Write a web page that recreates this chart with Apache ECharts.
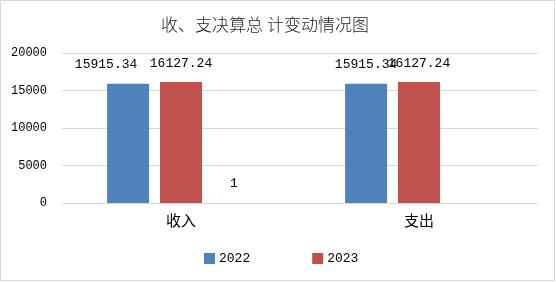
<!DOCTYPE html>
<html><head><meta charset="utf-8">
<script src="https://cdn.jsdelivr.net/npm/echarts@6/dist/echarts.min.js"></script>
<style>html,body{margin:0;padding:0;background:#fff}#c{width:556px;height:282px}</style>
</head><body><div id="c"></div>
<script>
const titleText = '收、支决算总 计变动情况图';
const categories = ['收入', '支出'];
const seriesNames = ['2022', '2023', '系列3'];
const values2022 = [15915.34, 15915.34];
const values2023 = [16127.24, 16127.24];
const values3 = [1, null];
const yTicks = [0, 5000, 10000, 15000, 20000];

const numFont = "'Liberation Mono', monospace";
const chart = echarts.init(document.getElementById('c'), null, {renderer: 'canvas'});
function lbl(dist) {
  return {
    show: true, position: 'top', distance: dist, color: '#000',
    fontFamily: numFont, fontSize: 13
  };
}
chart.setOption({
  animation: false,
  title: {
    text: titleText, left: 260, textAlign: 'center', top: 11,
    textStyle: {fontFamily: "'Noto Sans CJK SC'", fontSize: 17, fontWeight: 300, color: '#222'}
  },
  legend: {
    data: ['2022', '2023'], bottom: 12, left: 199, itemWidth: 11, itemHeight: 11, itemGap: 62,
    icon: 'rect',
    textStyle: {fontFamily: numFont, fontSize: 13, color: '#000', padding: [0, 0, 0, -1]}
  },
  grid: {left: 62, right: 18, top: 53, bottom: 79},
  xAxis: {
    type: 'category', data: categories,
    axisLine: {lineStyle: {color: '#d9d9d9'}},
    axisTick: {show: false},
    axisLabel: {fontFamily: "'Noto Sans CJK SC'", fontSize: 15, color: '#000', margin: 10}
  },
  yAxis: {
    type: 'value', min: yTicks[0], max: yTicks[yTicks.length - 1], interval: yTicks[1] - yTicks[0],
    axisLine: {show: false}, axisTick: {show: false},
    splitLine: {lineStyle: {color: '#d9d9d9'}},
    axisLabel: {fontFamily: numFont, fontSize: 12, color: '#000', margin: 15, formatter: v => String(v)}
  },
  series: [
    {name: seriesNames[0], type: 'bar', barWidth: 42, barGap: '26%', itemStyle: {color: '#4F81BD'},
     data: values2022.map((v, i) => i === 0 ? {value: v, label: {offset: [-22, 0]}} : v),
     label: lbl(13)},
    {name: seriesNames[1], type: 'bar', barWidth: 42, barGap: '26%', itemStyle: {color: '#C0504D'},
     data: values2023, label: lbl(12)},
    {name: seriesNames[2], type: 'bar', barWidth: 42, barGap: '26%', itemStyle: {color: '#9BBB59'},
     data: values3, label: lbl(13)}
  ],
  graphic: [{type: 'rect', shape: {x: 0.5, y: 0.5, width: 554, height: 280},
    style: {fill: 'none', stroke: '#d9d9d9', lineWidth: 1}, silent: true}]
});
</script></body></html>
